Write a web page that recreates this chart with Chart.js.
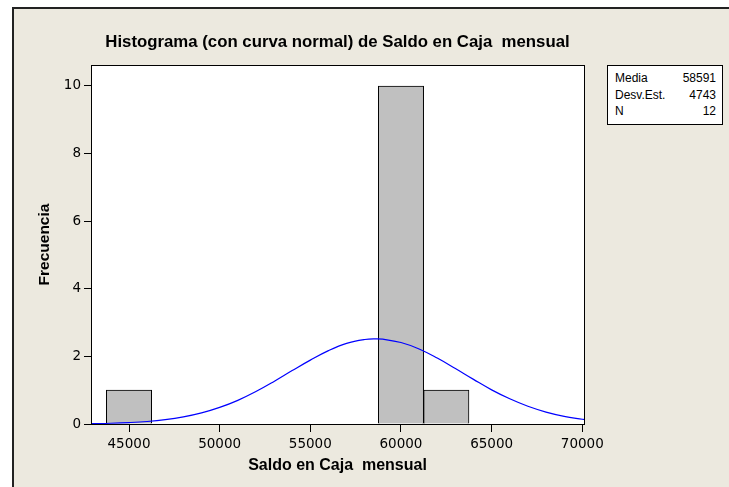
<!DOCTYPE html>
<html lang="es">
<head>
  <meta charset="UTF-8">
  <title>Histograma de Saldo en Caja mensual</title>
  <script src="https://cdn.jsdelivr.net/npm/chart.js@4.4.1/dist/chart.umd.min.js"></script>
  <style>
    body {
      margin: 0;
      background: #ffffff;
    }
    #frame {
      position: absolute;
      left: 12px;
      top: 7px;
      width: 740px;
      height: 500px;
      background: #ECE9DF;
      border-left: 2px solid #222;
      border-top: 2px solid #222;
    }
    #hist {
      position: absolute;
      left: 0;
      top: 0;
    }
    #title {
      position: absolute;
      left: 0;
      width: 675px;
      top: 32px;
      line-height: 20px;
      text-align: center;
      font: bold 16.8px "Liberation Sans", Arial, sans-serif;
      white-space: pre;
      color: #000;
    }
    #stats {
      position: absolute;
      left: 607px;
      top: 65px;
      width: 116px;
      height: 60px;
      box-sizing: border-box;
      border: 1px solid #000;
      background: #fff;
      padding: 4px 6px 0 7px;
      font: 12px "Liberation Sans", Arial, sans-serif;
    }
    #stats table { border-collapse: collapse; width: 100%; }
    #stats td { padding: 0; line-height: 16.5px; }
    #stats td.v { text-align: right; }
  </style>
</head>
<body>
  <div id="frame"></div>
  <canvas id="hist" width="729" height="487"></canvas>
  <div id="title">Histograma (con curva normal) de Saldo en Caja  mensual</div>
  <div id="stats"><table id="statsTable"></table></div>

  <script>
    // histogram bins (midpoints) and counts
    var binMids = [45000, 60000, 62500];
    var binCounts = [1, 10, 1];

    // fitted normal curve
    var curveX = [42900, 43000, 44000, 45000, 46000, 47000, 48000, 49000, 50000, 51000,
                  52000, 53000, 54000, 55000, 56000, 57000, 58000, 58591, 59000, 60000,
                  61000, 62000, 63000, 64000, 65000, 66000, 67000, 68000, 69000, 70000, 70100];
    var curveY = [0.011, 0.011, 0.022, 0.042, 0.074, 0.127, 0.209, 0.327, 0.49, 0.70,
                  0.96, 1.26, 1.58, 1.89, 2.17, 2.385, 2.50, 2.52, 2.51, 2.41,
                  2.22, 1.95, 1.64, 1.32, 1.01, 0.745, 0.524, 0.353, 0.227, 0.14, 0.133];

    var xTicks = [45000, 50000, 55000, 60000, 65000, 70000];
    var yTicks = [0, 2, 4, 6, 8, 10];

    var statLabels = ['Media', 'Desv.Est.', 'N'];
    var statValues = ['58591', '4743', '12'];

    var tbl = document.getElementById('statsTable');
    for (var i = 0; i < statLabels.length; i++) {
      var tr = document.createElement('tr');
      tr.innerHTML = '<td>' + statLabels[i] + '</td><td class="v">' + statValues[i] + '</td>';
      tbl.appendChild(tr);
    }

    var barData = binMids.map(function(m, i) { return {x: m, y: binCounts[i]}; });
    var lineData = curveX.map(function(x, i) { return {x: x, y: curveY[i]}; });

    // white plot area with black frame
    var plotFrame = {
      id: 'plotFrame',
      beforeDatasetsDraw: function(chart) {
        var a = chart.chartArea, c = chart.ctx;
        c.save();
        c.fillStyle = '#ffffff';
        c.fillRect(a.left, a.top, a.right - a.left, a.bottom - a.top);
        c.restore();
      },
      afterDraw: function(chart) {
        var a = chart.chartArea, c = chart.ctx;
        c.save();
        c.strokeStyle = '#000';
        c.lineWidth = 1;
        c.strokeRect(Math.round(a.left) + 0.5, Math.round(a.top) + 0.5,
                     Math.round(a.right - a.left), Math.round(a.bottom - a.top));
        c.restore();
      }
    };

    var ctx = document.getElementById('hist').getContext('2d');
    new Chart(ctx, {
      data: {
        datasets: [{
          type: 'line',
          data: lineData,
          borderColor: '#0000FF',
          borderWidth: 1.2,
          pointRadius: 0,
          tension: 0.4,
          fill: false,
          order: 0
        }, {
          type: 'bar',
          data: barData,
          backgroundColor: '#C0C0C0',
          borderColor: '#000',
          borderWidth: 1,
          categoryPercentage: 1,
          barPercentage: 1,
          grouped: false,
          order: 1
        }]
      },
      options: {
        responsive: false,
        devicePixelRatio: 1,
        animation: false,
        layout: { padding: { left: 0, top: 65, right: 145, bottom: 0 } },
        plugins: {
          legend: { display: false },
          tooltip: { enabled: false }
        },
        scales: {
          x: {
            type: 'linear',
            min: 42904,
            max: 70094,
            offset: false,
            afterBuildTicks: function(s) { s.ticks = xTicks.map(function(v) { return {value: v}; }); },
            afterFit: function(s) { s.height = 63; },
            grid: { offset: false, drawOnChartArea: false, drawTicks: true, tickLength: 8, color: '#000' },
            border: { display: true, color: '#000' },
            ticks: {
              color: '#000',
              padding: 4,
              maxRotation: 0,
              autoSkip: false,
              font: { family: 'DejaVu Sans', size: 13.5 },
              callback: function(v) { return String(v); }
            },
            title: {
              display: true,
              text: 'Saldo en Caja  mensual',
              color: '#000',
              font: { family: 'Liberation Sans', size: 16, weight: 'bold' },
              padding: { top: 0, bottom: 12 }
            }
          },
          y: {
            min: 0,
            max: 10.62,
            afterBuildTicks: function(s) { s.ticks = yTicks.map(function(v) { return {value: v}; }); },
            afterFit: function(s) { s.width = 91; },
            grid: { drawOnChartArea: false, drawTicks: true, tickLength: 7, color: '#000' },
            border: { display: true, color: '#000' },
            ticks: {
              color: '#000',
              padding: 3,
              font: { family: 'DejaVu Sans', size: 13.5 }
            },
            title: {
              display: true,
              text: 'Frecuencia',
              color: '#000',
              font: { family: 'Liberation Sans', size: 15.5, weight: 'bold' },
              padding: { top: 35, bottom: 0 }
            }
          }
        }
      },
      plugins: [plotFrame]
    });
  </script>
</body>
</html>
